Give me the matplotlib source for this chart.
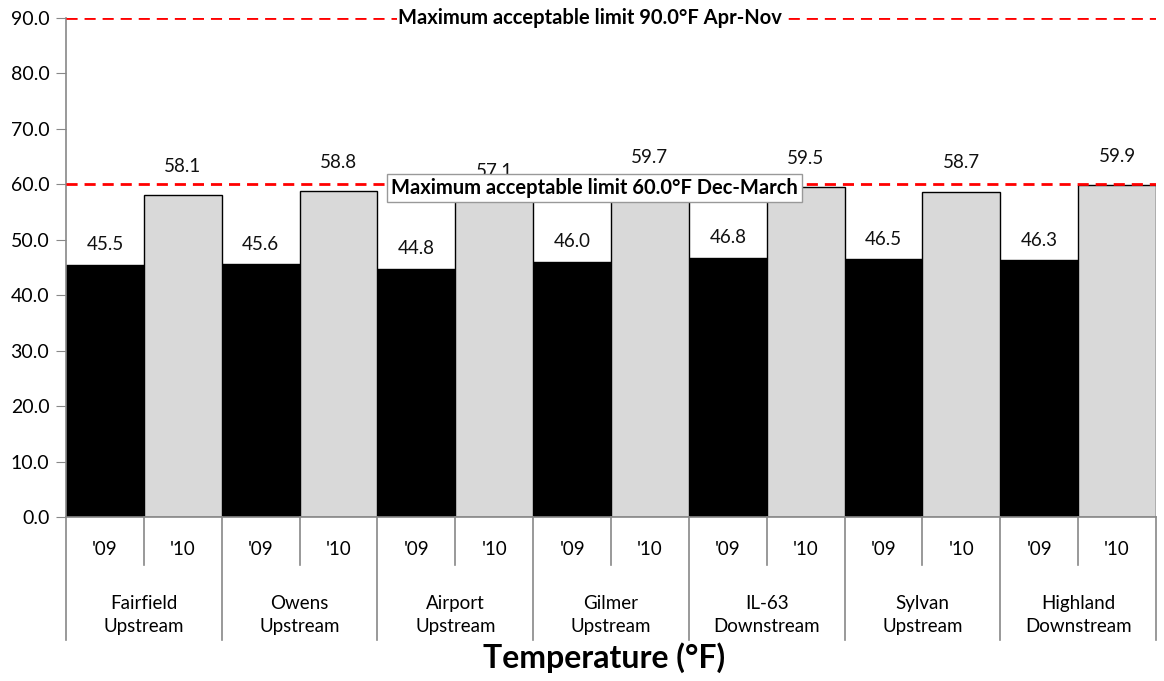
import matplotlib
matplotlib.use("Agg")
import matplotlib.pyplot as plt
import matplotlib.transforms as mtransforms

# station names (two lines each) and yearly mean temperature
sites = ["Fairfield\nUpstream", "Owens\nUpstream", "Airport\nUpstream", "Gilmer\nUpstream",
         "IL-63\nDownstream", "Sylvan\nUpstream", "Highland\nDownstream"]
years = ["'09", "'10"]
temp09 = [45.5, 45.6, 44.8, 46.0, 46.8, 46.5, 46.3]
temp10 = [58.1, 58.8, 57.1, 59.7, 59.5, 58.7, 59.9]
limit_summer = 90.0
limit_winter = 60.0

plt.rcParams['font.family'] = ['Lato', 'DejaVu Sans']

fig = plt.figure(figsize=(11.64, 6.81), dpi=100)
ax = fig.add_axes([66/1164, 1-517/681, 1090/1164, 499/681])

n = len(sites)
x09 = [2*i for i in range(n)]
x10 = [2*i+1 for i in range(n)]
ax.bar(x09, temp09, width=1.0, color="black", edgecolor="black", linewidth=1, zorder=2)
ax.bar(x10, temp10, width=1.0, color="#d9d9d9", edgecolor="black", linewidth=1, zorder=2)

for xx, v in zip(x09, temp09):
    ax.text(xx, v + 3.6, f"{v:.1f}", ha="center", va="center", fontsize=13.5, color="#111111")
for xx, v in zip(x10, temp10):
    ax.text(xx, v + 5.2, f"{v:.1f}", ha="center", va="center", fontsize=13.5, color="#111111")

ax.axhline(limit_summer, color="#ff0000", linestyle=(0, (4, 2.5)), linewidth=2, zorder=3)
ax.axhline(limit_winter, color="#ff0000", linestyle=(0, (4, 2.5)), linewidth=2, zorder=3)

ax.text(6.23, limit_summer, f"Maximum acceptable limit {limit_summer:.1f}°F Apr-Nov",
        ha="center", va="center", fontsize=14.5, fontweight="bold", zorder=4,
        bbox=dict(facecolor="white", edgecolor="none", pad=1))
ax.text(6.29, limit_winter - 0.7, f"Maximum acceptable limit {limit_winter:.1f}°F Dec-March",
        ha="center", va="center", fontsize=14.5, fontweight="bold", zorder=4,
        bbox=dict(facecolor="white", edgecolor="#999999", pad=3))

ax.set_xlim(-0.5, 2*n - 0.5)
ax.set_ylim(0, 90)
ax.set_yticks(range(0, 91, 10))
ax.set_yticklabels([f"{t:.1f}" for t in range(0, 91, 10)], fontsize=14)
ax.tick_params(axis="y", direction="out", length=7, color="#888888", pad=5)
ax.set_xticks([])
for s in ["top", "right"]:
    ax.spines[s].set_visible(False)
for s in ["left", "bottom"]:
    ax.spines[s].set_color("#888888")
    ax.spines[s].set_linewidth(1.2)

# multi-level category axis
trans = mtransforms.blended_transform_factory(ax.transData, ax.transAxes)
for i in range(n):
    ax.text(x09[i], -0.066, years[0], transform=trans, ha="center", va="center", fontsize=13.5)
    ax.text(x10[i], -0.066, years[1], transform=trans, ha="center", va="center", fontsize=13.5)
    ax.text(2*i + 0.5, -0.196, sites[i], transform=trans, ha="center", va="center",
            fontsize=13.5, linespacing=1.4)
    ax.plot([2*i + 0.5]*2, [0, -0.096], transform=trans, color="#888888", lw=1.2, clip_on=False)
for k in range(n + 1):
    ax.plot([2*k - 0.5]*2, [0, -0.246], transform=trans, color="#888888", lw=1.2, clip_on=False)

fig.text(0.519, 1-658/681, "Temperature (°F)", ha="center", va="center", fontsize=23, fontweight="bold")

fig.savefig("out.png", dpi=100)
